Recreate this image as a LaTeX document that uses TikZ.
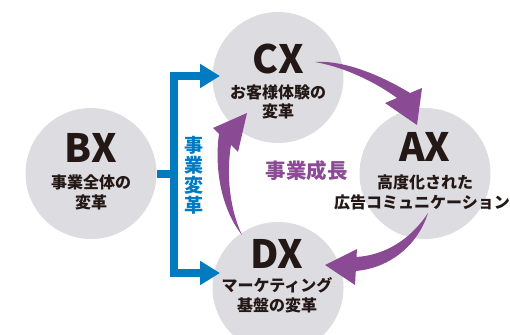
\documentclass[tikz,border=0pt]{standalone}
\usepackage{fontspec}
\newfontfamily\jp{Noto Sans CJK JP}
\usetikzlibrary{arrows.meta}
\definecolor{circ}{RGB}{221,221,225}
\definecolor{ink}{RGB}{35,24,21}
\definecolor{blu}{RGB}{0,122,192}
\definecolor{pur}{RGB}{139,74,148}
\begin{document}
\begin{tikzpicture}[x=1pt,y=-1pt,
  bubble/.style={circle,fill=circ,minimum size=131pt,inner sep=0pt},
  ttl/.style={font=\jp\bfseries\fontsize{39}{39}\selectfont,text=ink,inner sep=0pt},
  sub/.style={font=\jp\bfseries\fontsize{16}{20}\selectfont,text=ink,inner sep=0pt},
  bluline/.style={draw=blu,line width=8pt},
  blutip/.style={Triangle[length=20pt,width=23pt]},
  purarrow/.style={fill=pur}]
\useasboundingbox (0,0) rectangle (510,334);
\clip (0,0) rectangle (510,334);
% circles
\node[bubble] (bx) at (91,173.5) {};
\node[bubble] (cx) at (278,77.5) {};
\node[bubble] (ax) at (425,173.5) {};
\node[bubble] (dx) at (278,287.5) {};
% purple growth arrows
\fill[purarrow] (315,62) .. controls (345,60) and (382,76) .. (410,93) -- (422,88) -- (417,125) -- (385,103) -- (397,98) .. controls (378,84) and (348,68) .. (315,62) -- cycle;
\fill[purarrow] (428,213) .. controls (410,240) and (385,255) .. (356.5,257) -- (357,249) -- (325,265) -- (355,285) -- (355.8,271) .. controls (390,268) and (418,245) .. (428,213) -- cycle;
\fill[purarrow] (242,235) .. controls (222,210) and (214,170) .. (219,134) -- (213,128) -- (247,113) -- (238,152) -- (231,145) .. controls (226,175) and (230,210) .. (242,235) -- cycle;
% blue bracket
\coordinate (vt) at (174,76);
\coordinate (vb) at (174,273);
\coordinate (cxin) at (220,76);
\coordinate (dxin) at (220,273);
\draw[bluline,line join=miter,{Triangle[length=20pt,width=23pt]}-{Triangle[length=20pt,width=23pt]}] (cxin) -- (vt) -- (vb) -- (dxin);
\draw[bluline] (bx.east) -- (bx.east -| vt);
% texts
\node[ttl] (bxt) at (91,148) {BX};
\node[sub] (bx1) at (91,182) {事業全体の};
\node[sub] (bx2) at (91,202) {変革};
\node[ttl] (cxt) at (278,58.5) {CX};
\node[sub] (cx1) at (278,92) {お客様体験の};
\node[sub] (cx2) at (278,111) {変革};
\node[ttl] (axt) at (425,147) {AX};
\node[sub] (ax1) at (425,182) {高度化された};
\node[sub] (ax2) at (422,202) {広告コミュニケーション};
\node[ttl] (dxt) at (277,253.5) {DX};
\node[sub] (dx1) at (277,285.5) {マーケティング};
\node[sub] (dx2) at (277,305.5) {基盤の変革};
\node[font=\jp\bfseries\fontsize{19}{20}\selectfont,text=blu,align=center,inner sep=0pt] (bv) at (194,175) {事\\業\\変\\革};
\node[font=\jp\bfseries\fontsize{20.5}{24}\selectfont,text=pur,inner sep=0pt] (grow) at (306.5,171) {事業成長};
\end{tikzpicture}
\end{document}
